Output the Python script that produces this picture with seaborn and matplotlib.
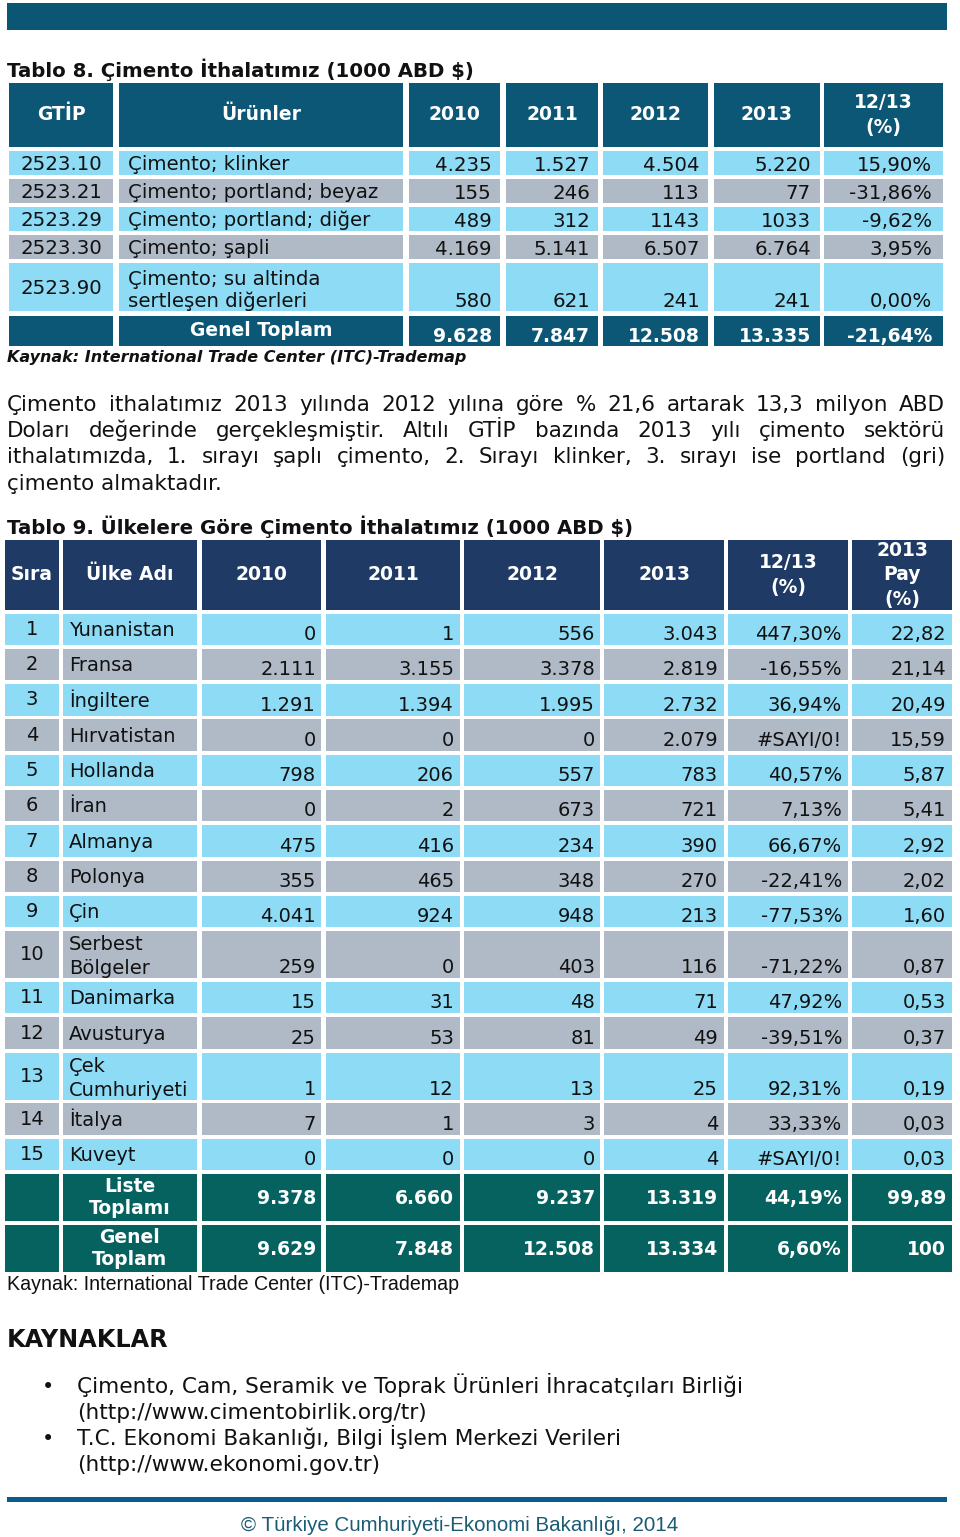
import matplotlib
matplotlib.use('Agg')
import matplotlib.pyplot as plt
from matplotlib.patches import Rectangle
import seaborn as sns

# %%
# Tablo 8 data
t8_headers = ['GTİP', 'Ürünler', '2010', '2011', '2012', '2013', '12/13\n(%)']
t8_gtip = ['2523.10', '2523.21', '2523.29', '2523.30', '2523.90']
t8_urun = ['Çimento; klinker', 'Çimento; portland; beyaz', 'Çimento; portland; diğer',
           'Çimento; şapli', 'Çimento; su altinda\nsertleşen diğerleri']
t8_2010 = ['4.235', '155', '489', '4.169', '580']
t8_2011 = ['1.527', '246', '312', '5.141', '621']
t8_2012 = ['4.504', '113', '1143', '6.507', '241']
t8_2013 = ['5.220', '77', '1033', '6.764', '241']
t8_pct = ['15,90%', '-31,86%', '-9,62%', '3,95%', '0,00%']
t8_total_label = 'Genel Toplam'
t8_total = ['9.628', '7.847', '12.508', '13.335', '-21,64%']

# Tablo 9 data
t9_headers = ['Sıra', 'Ülke Adı', '2010', '2011', '2012', '2013', '12/13\n(%)', '2013\nPay\n(%)']
t9_ulke = ['Yunanistan', 'Fransa', 'İngiltere', 'Hırvatistan', 'Hollanda', 'İran', 'Almanya',
           'Polonya', 'Çin', 'Serbest\nBölgeler', 'Danimarka', 'Avusturya', 'Çek\nCumhuriyeti',
           'İtalya', 'Kuveyt']
t9_2010 = ['0', '2.111', '1.291', '0', '798', '0', '475', '355', '4.041', '259', '15', '25', '1', '7', '0']
t9_2011 = ['1', '3.155', '1.394', '0', '206', '2', '416', '465', '924', '0', '31', '53', '12', '1', '0']
t9_2012 = ['556', '3.378', '1.995', '0', '557', '673', '234', '348', '948', '403', '48', '81', '13', '3', '0']
t9_2013 = ['3.043', '2.819', '2.732', '2.079', '783', '721', '390', '270', '213', '116', '71', '49', '25', '4', '4']
t9_pct = ['447,30%', '-16,55%', '36,94%', '#SAYI/0!', '40,57%', '7,13%', '66,67%', '-22,41%',
          '-77,53%', '-71,22%', '47,92%', '-39,51%', '92,31%', '33,33%', '#SAYI/0!']
t9_pay = ['22,82', '21,14', '20,49', '15,59', '5,87', '5,41', '2,92', '2,02', '1,60', '0,87',
          '0,53', '0,37', '0,19', '0,03', '0,03']
t9_total_labels = ['Liste\nToplamı', 'Genel\nToplam']
t9_liste = ['9.378', '6.660', '9.237', '13.319', '44,19%', '99,89']
t9_genel = ['9.629', '7.848', '12.508', '13.334', '6,60%', '100']

# Text blocks
title8 = 'Tablo 8. Çimento İthalatımız (1000 ABD $)'
title9 = 'Tablo 9. Ülkelere Göre Çimento İthalatımız (1000 ABD $)'
source_text = 'Kaynak: International Trade Center (ITC)-Trademap'
paragraph = ['Çimento ithalatımız 2013 yılında 2012 yılına göre % 21,6 artarak 13,3 milyon ABD',
             'Doları değerinde gerçekleşmiştir. Altılı GTİP bazında 2013 yılı çimento sektörü',
             'ithalatımızda, 1. sırayı şaplı çimento, 2. Sırayı klinker, 3. sırayı ise portland (gri)',
             'çimento almaktadır.']
refs = [('Çimento, Cam, Seramik ve Toprak Ürünleri İhracatçıları Birliği', '(http://www.cimentobirlik.org/tr)'),
        ('T.C. Ekonomi Bakanlığı, Bilgi İşlem Merkezi Verileri', '(http://www.ekonomi.gov.tr)')]
footer = '© Türkiye Cumhuriyeti-Ekonomi Bakanlığı, 2014'

# %%
sns.set_theme(style='white')
plt.rcParams['font.family'] = ['DejaVu Sans']

LIGHT = '#8ddbf5'
GRAY = '#b0bac6'
HEAD8 = '#0c5776'
HEAD9 = '#1f3a64'
TOTAL9 = '#06625f'

fig = plt.figure(figsize=(9.6, 15.37), dpi=100)
ax = fig.add_axes([0, 0, 1, 1])
ax.set_xlim(0, 960)
ax.set_ylim(1537, 0)
ax.axis('off')


def cell(x0, x1, y0, y1, color):
    ax.add_patch(Rectangle((x0, y0), x1 - x0, y1 - y0, facecolor=color, edgecolor='none'))


def txt(x, y, s, size=14, **kw):
    kw.setdefault('va', 'baseline')
    kw.setdefault('color', '#111111')
    ax.text(x, y, s, fontsize=size, **kw)


# top band
cell(7, 947, 3, 30, '#0b5672')

# %%
# Tablo 8
txt(7, 77, title8, 14.2, fontweight='bold')
cols8 = [(9, 113), (119, 403), (409, 500), (506, 598), (603, 708), (714, 820), (824, 943)]
rows8 = [(151, 175), (179, 203), (207, 231), (235, 259), (263, 311)]
pad8 = [8, 8, 8, 9, 11]

for (x0, x1), h in zip(cols8, t8_headers):
    cell(x0, x1, 83, 147, HEAD8)
    lines = h.split('\n')
    for k, ln in enumerate(lines):
        yc = 115 + (k - (len(lines) - 1) / 2) * 24
        txt((x0 + x1) / 2, yc, ln, 13.5, fontweight='bold', color='white', ha='center', va='center')

numcols8 = [t8_2010, t8_2011, t8_2012, t8_2013, t8_pct]
for i, (y0, y1) in enumerate(rows8):
    color = LIGHT if i % 2 == 0 else GRAY
    for x0, x1 in cols8:
        cell(x0, x1, y0, y1, color)
    txt((cols8[0][0] + cols8[0][1]) / 2, (y0 + y1) / 2 + 1, t8_gtip[i], 14.2, ha='center', va='center')
    lines = t8_urun[i].split('\n')
    for k, ln in enumerate(lines):
        txt(cols8[1][0] + 9, y1 - 4 - (len(lines) - 1 - k) * 22 - (0 if len(lines) > 1 else 1), ln, 14.2)
    for j, col in enumerate(numcols8):
        txt(cols8[j + 2][1] - pad8[j], y1 - 4, col[i], 14.2, ha='right')

# total row
for x0, x1 in cols8:
    cell(x0, x1, 316, 346, HEAD8)
txt((cols8[1][0] + cols8[1][1]) / 2, 331, t8_total_label, 13.5, fontweight='bold', color='white', ha='center', va='center')
for j, v in enumerate(t8_total):
    txt(cols8[j + 2][1] - pad8[j], 342, v, 13.5, fontweight='bold', color='white', ha='right')

txt(7, 362, source_text, 11.5, fontweight='bold', fontstyle='italic')

# %%
# justified paragraph
renderer = fig.canvas.get_renderer()


def word_width(w, size):
    t = ax.text(0, 0, w, fontsize=size)
    bb = t.get_window_extent(renderer=renderer)
    t.remove()
    return bb.width


psize = 15.5
for n, line in enumerate(paragraph):
    yb = 411 + n * 26.2
    words = line.split(' ')
    if n == len(paragraph) - 1:
        txt(7, yb, line, psize)
        continue
    widths = [word_width(w, psize) for w in words]
    gap = (945 - 7 - sum(widths)) / (len(words) - 1)
    x = 7
    for w, wd in zip(words, widths):
        txt(x, yb, w, psize)
        x += wd + gap

# %%
# Tablo 9
txt(7, 534, title9, 14.2, fontweight='bold')
cols9 = [(5, 59), (63, 197), (202, 321), (326, 460), (464, 600), (604, 724), (728, 848), (852, 952)]
pad9 = [5, 6, 5, 6, 6, 6]

for (x0, x1), h in zip(cols9, t9_headers):
    cell(x0, x1, 540, 610, HEAD9)
    lines = h.split('\n')
    for k, ln in enumerate(lines):
        yc = 575 + (k - (len(lines) - 1) / 2) * 24
        txt((x0 + x1) / 2, yc, ln, 13.5, fontweight='bold', color='white', ha='center', va='center')

numcols9 = [t9_2010, t9_2011, t9_2012, t9_2013, t9_pct, t9_pay]
y = 613.5
for i, name in enumerate(t9_ulke):
    lines = name.split('\n')
    h = 31.5 if len(lines) == 1 else 47
    y0, y1 = y, y + h
    color = LIGHT if i % 2 == 0 else GRAY
    for x0, x1 in cols9:
        cell(x0, x1, y0, y1, color)
    txt((cols9[0][0] + cols9[0][1]) / 2, (y0 + y1) / 2, str(i + 1), 14, ha='center', va='center')
    for k, ln in enumerate(lines):
        base = y1 - 9 if len(lines) == 1 else y1 - 4 - (len(lines) - 1 - k) * 24
        txt(cols9[1][0] + 6, base, ln, 14)
    for j, col in enumerate(numcols9):
        txt(cols9[j + 2][1] - pad9[j], y1 - 5, col[i], 14, ha='right')
    y = y1 + 3.8

for label, vals in zip(t9_total_labels, [t9_liste, t9_genel]):
    y0, y1 = y, y + 47
    for x0, x1 in cols9:
        cell(x0, x1, y0, y1, TOTAL9)
    for k, ln in enumerate(label.split('\n')):
        txt((cols9[1][0] + cols9[1][1]) / 2, y1 - 29 + k * 22, ln, 13.5, fontweight='bold', color='white', ha='center')
    for j, v in enumerate(vals):
        txt(cols9[j + 2][1] - pad9[j], (y0 + y1) / 2 + 1, v, 13.5, fontweight='bold', color='white', ha='right', va='center')
    y = y1 + 3.8

txt(7, 1290, source_text, 14.1, family=['Liberation Sans', 'DejaVu Sans'])

# %%
# Kaynaklar
txt(7, 1347, 'KAYNAKLAR', 17.2, fontweight='bold')
for n, (a, b) in enumerate(refs):
    yb = 1393 + n * 52
    txt(42, yb, '•', 15)
    txt(77, yb, a, 15.6)
    txt(77, yb + 26, b, 15.6)

cell(7, 947, 1497, 1502, '#0b5c8c')
txt(460, 1531, footer, 14.8, color='#1b5b74', ha='center', family=['Liberation Sans', 'DejaVu Sans'])

fig.savefig('out.png', dpi=100)
